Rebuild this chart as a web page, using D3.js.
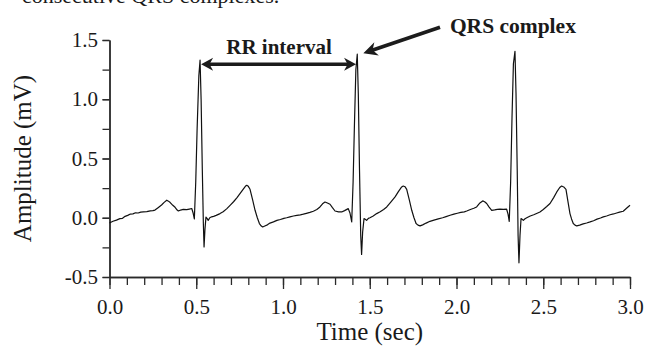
<!DOCTYPE html>
<html>
<head>
<meta charset="utf-8">
<script src="https://cdn.jsdelivr.net/npm/d3@7"></script>
<style>
  html, body { margin: 0; padding: 0; background: #ffffff; }
  svg { display: block; }
  text { font-family: "Liberation Serif", "Times New Roman", serif; fill: #1a1a1a; }
</style>
</head>
<body>
<script>
// ---------------- DATA ----------------
const ecgTime = [
  0.000,0.020,0.040,0.060,0.075,0.090,0.105,0.118,0.135,0.150,0.165,0.180,0.195,0.215,0.235,0.250,0.262,0.280,0.300,0.315,
  0.330,0.340,0.350,0.365,0.378,0.390,0.397,0.410,0.425,0.445,0.460,0.474,0.482,0.489,0.497,0.505,0.515,0.522,0.528,0.535,
  0.541,0.545,0.550,0.556,0.562,0.569,0.578,0.589,0.600,0.615,0.637,0.655,0.675,0.695,0.715,0.735,0.752,0.770,0.783,0.791,
  0.800,0.810,0.825,0.839,0.852,0.864,0.875,0.883,0.895,0.910,0.925,0.945,0.965,0.985,1.005,1.021,1.040,1.060,1.080,1.100,
  1.117,1.135,1.155,1.175,1.195,1.213,1.228,1.242,1.256,1.271,1.285,1.300,1.320,1.338,1.355,1.376,1.386,1.396,1.404,1.412,
  1.420,1.428,1.434,1.441,1.448,1.453,1.459,1.467,1.474,1.482,1.492,1.501,1.520,1.540,1.560,1.580,1.598,1.620,1.646,1.665,
  1.684,1.693,1.703,1.713,1.728,1.742,1.755,1.767,1.778,1.790,1.805,1.825,1.847,1.870,1.895,1.920,1.940,1.963,1.985,2.005,
  2.025,2.045,2.059,2.080,2.100,2.116,2.135,2.151,2.162,2.174,2.188,2.203,2.220,2.235,2.251,2.270,2.289,2.297,2.304,2.312,
  2.320,2.328,2.337,2.343,2.350,2.355,2.360,2.366,2.372,2.378,2.385,2.395,2.405,2.425,2.445,2.465,2.481,2.500,2.520,2.539,
  2.560,2.578,2.595,2.606,2.618,2.631,2.642,2.654,2.663,2.673,2.683,2.693,2.710,2.730,2.750,2.770,2.790,2.810,2.830,2.846,
  2.865,2.885,2.905,2.923,2.940,2.961,2.980,3.000
];
const ecgAmp = [
  -0.044,-0.030,-0.020,-0.007,-0.005,0.012,0.020,0.030,0.033,0.042,0.040,0.048,0.050,0.052,0.058,0.060,0.065,0.085,0.108,0.130,
  0.148,0.140,0.128,0.105,0.088,0.065,0.057,0.065,0.070,0.068,0.073,0.078,0.040,-0.010,0.300,0.750,1.200,1.330,1.000,0.400,
  -0.050,-0.246,-0.100,0.005,-0.005,-0.022,0.000,0.008,0.012,0.020,0.035,0.050,0.075,0.105,0.135,0.170,0.204,0.240,0.265,0.274,
  0.265,0.240,0.150,0.063,0.000,-0.049,-0.070,-0.078,-0.070,-0.060,-0.045,-0.035,-0.022,-0.015,-0.005,0.000,0.008,0.015,0.020,0.025,
  0.030,0.037,0.045,0.055,0.070,0.091,0.118,0.133,0.125,0.114,0.085,0.057,0.050,0.049,0.060,0.077,0.040,-0.035,0.300,0.800,
  1.250,1.380,1.050,0.400,-0.150,-0.310,-0.120,-0.007,-0.012,-0.022,-0.005,0.000,0.015,0.035,0.050,0.070,0.091,0.130,0.176,0.220,
  0.260,0.268,0.262,0.240,0.150,0.063,0.000,-0.049,-0.062,-0.069,-0.060,-0.045,-0.030,-0.020,-0.010,0.000,0.010,0.021,0.030,0.038,
  0.045,0.050,0.057,0.070,0.080,0.091,0.125,0.142,0.135,0.120,0.090,0.063,0.066,0.070,0.072,0.070,0.072,0.030,-0.030,0.300,
  0.850,1.300,1.405,1.050,0.400,-0.150,-0.380,-0.150,-0.007,-0.012,-0.022,-0.008,0.000,0.015,0.025,0.038,0.049,0.070,0.095,0.120,
  0.170,0.218,0.255,0.268,0.260,0.240,0.140,0.035,-0.010,-0.049,-0.062,-0.069,-0.062,-0.052,-0.044,-0.035,-0.025,-0.012,-0.002,0.007,
  0.015,0.025,0.032,0.040,0.048,0.055,0.080,0.105
];

const xMinorTicks = d3.range(0, 30.5, 1).map(d => d / 10);
const xMajorTicks = [0.0, 0.5, 1.0, 1.5, 2.0, 2.5, 3.0];
const yMinorTicks = [-0.5, -0.25, 0.0, 0.25, 0.5, 0.75, 1.0, 1.25, 1.5];
const yMajorTicks = [-0.5, 0.0, 0.5, 1.0, 1.5];

const xTitle = "Time (sec)";
const yTitle = "Amplitude (mV)";
const captionFragment = "consecutive QRS complexes.";

// annotations (in data units)
const rrArrow = { t0: 0.528, t1: 1.421, v: 1.295 };
const rrLabel = { text: "RR interval", t: 0.977, v: 1.38 };
const qrsArrow = { tTail: 1.905, vTail: 1.608, tTip: 1.463, vTip: 1.388 };
const qrsLabel = { text: "QRS complex", t: 2.325, v: 1.557 };

// ---------------- LAYOUT ----------------
const W = 645, H = 349;
const plot = { left: 109.5, right: 630, top: 40, bottom: 277 };

const svg = d3.select("body").append("svg")
  .attr("width", W).attr("height", H);

const x = d3.scaleLinear().domain([0, 3]).range([plot.left, plot.right]);
const y = d3.scaleLinear().domain([-0.5, 1.5]).range([plot.bottom, plot.top]);

const axisColor = "#2a2a2a";

// caption fragment at very top (cropped in reference)
svg.append("text")
  .attr("x", 22).attr("y", 3)
  .style("font-size", "22px")
  .text(captionFragment);

// X axis: minor ticks
const gxMinor = svg.append("g")
  .attr("transform", `translate(0,${plot.bottom})`)
  .call(d3.axisBottom(x).tickValues(xMinorTicks).tickSize(8).tickSizeOuter(0).tickFormat(""));
// X axis: major ticks with labels
const gxMajor = svg.append("g")
  .attr("transform", `translate(0,${plot.bottom})`)
  .call(d3.axisBottom(x).tickValues(xMajorTicks).tickSize(12).tickSizeOuter(0)
        .tickPadding(10).tickFormat(d3.format(".1f")));

// Y axis
const gyMinor = svg.append("g")
  .attr("transform", `translate(${plot.left},0)`)
  .call(d3.axisLeft(y).tickValues(yMinorTicks).tickSize(7).tickSizeOuter(0).tickFormat(""));
const gyMajor = svg.append("g")
  .attr("transform", `translate(${plot.left},0)`)
  .call(d3.axisLeft(y).tickValues(yMajorTicks).tickSize(7).tickSizeOuter(0)
        .tickPadding(4.5).tickFormat(d3.format(".1f")));

[gxMinor, gxMajor, gyMinor, gyMajor].forEach(g => {
  g.selectAll("path.domain").attr("stroke", axisColor).attr("stroke-width", 1.4);
  g.selectAll(".tick line").attr("stroke", axisColor).attr("stroke-width", 1.3);
  g.selectAll(".tick text")
    .style("font-family", '"Liberation Serif", "Times New Roman", serif')
    .style("font-size", "21px").attr("fill", "#1a1a1a");
});
// Major labels (-0.5 uses hyphen-minus as in reference)
gyMajor.selectAll(".tick text").text(d => d3.format(".1f")(d).replace("\u2212", "-"));

// Axis titles
svg.append("text")
  .attr("x", (plot.left + plot.right) / 2).attr("y", 340)
  .attr("text-anchor", "middle")
  .style("font-size", "25px")
  .text(xTitle);

svg.append("text")
  .attr("transform", `translate(31,${(plot.top + plot.bottom) / 2 + 0})rotate(-90)`)
  .attr("text-anchor", "middle")
  .style("font-size", "25px")
  .text(yTitle);

// ECG trace
const ecg = ecgTime.map((t, i) => [t, ecgAmp[i]]);
svg.append("path")
  .datum(ecg)
  .attr("fill", "none")
  .attr("stroke", "#111")
  .attr("stroke-width", 1.2)
  .attr("stroke-linejoin", "round")
  .attr("d", d3.line().x(d => x(d[0])).y(d => y(d[1])));

// Arrowhead helper (barbed / stealth shape)
function arrowHead(tipX, tipY, angle, len, half) {
  const ca = Math.cos(angle), sa = Math.sin(angle);
  const pt = (a, b) => [tipX - a * ca + b * sa, tipY - a * sa - b * ca];
  const p1 = pt(len, half), p2 = pt(len * 0.7, 0), p3 = pt(len, -half);
  return `M${tipX},${tipY}L${p1[0]},${p1[1]}L${p2[0]},${p2[1]}L${p3[0]},${p3[1]}Z`;
}

const annColor = "#1c1c1c";
// RR interval double arrow
{
  const xa = x(rrArrow.t0), xb = x(rrArrow.t1), ya = y(rrArrow.v);
  svg.append("line")
    .attr("x1", xa + 6).attr("x2", xb - 6).attr("y1", ya).attr("y2", ya)
    .attr("stroke", annColor).attr("stroke-width", 3.6);
  svg.append("path").attr("d", arrowHead(xa, ya, Math.PI, 12, 6.5)).attr("fill", annColor);
  svg.append("path").attr("d", arrowHead(xb, ya, 0, 12, 6.5)).attr("fill", annColor);
}
svg.append("text")
  .attr("x", x(rrLabel.t)).attr("y", y(rrLabel.v))
  .attr("text-anchor", "middle")
  .style("font-size", "21px").style("font-weight", "bold")
  .text(rrLabel.text);

// QRS complex arrow
{
  const x0 = x(qrsArrow.tTail), y0 = y(qrsArrow.vTail);
  const x1 = x(qrsArrow.tTip), y1 = y(qrsArrow.vTip);
  const ang = Math.atan2(y1 - y0, x1 - x0);
  svg.append("line")
    .attr("x1", x0).attr("y1", y0)
    .attr("x2", x1 - 7 * Math.cos(ang)).attr("y2", y1 - 7 * Math.sin(ang))
    .attr("stroke", annColor).attr("stroke-width", 3.8);
  svg.append("path").attr("d", arrowHead(x1, y1, ang, 14, 7)).attr("fill", annColor);
}
svg.append("text")
  .attr("x", x(qrsLabel.t)).attr("y", y(qrsLabel.v))
  .attr("text-anchor", "middle")
  .style("font-size", "21.5px").style("font-weight", "bold")
  .text(qrsLabel.text);
</script>
</body>
</html>
